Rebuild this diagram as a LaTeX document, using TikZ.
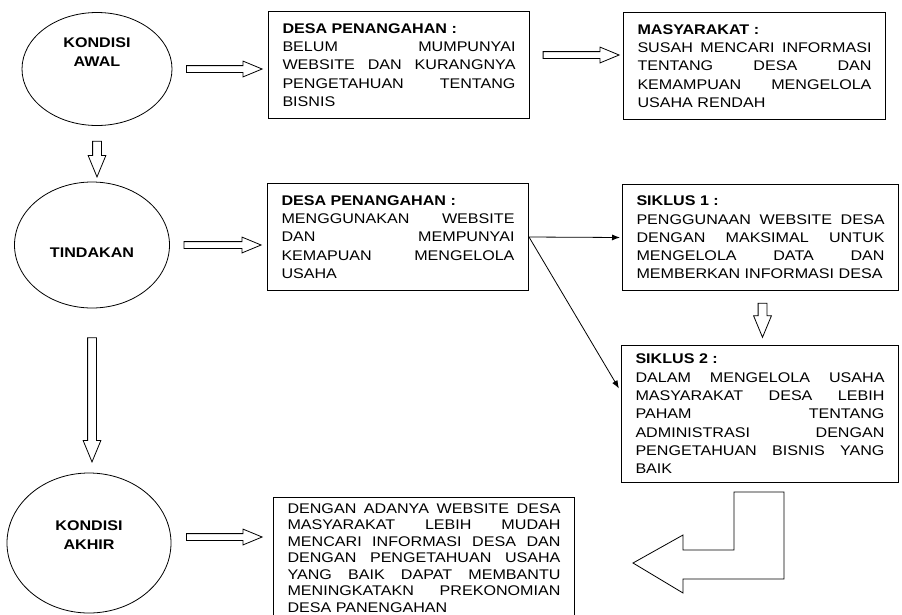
\documentclass[tikz,border=0pt]{standalone}
\usepackage{fontspec}
\setmainfont{Liberation Sans}[FakeStretch=1.15]
\usetikzlibrary{shapes.geometric, shapes.arrows, arrows.meta, calc}

\newcommand{\boxfont}{\fontsize{14}{18.3}\selectfont}
\newcommand{\lastfont}{\fontsize{14}{16.5}\selectfont}

\tikzset{
  phase/.style={ellipse, draw, line width=0.8pt},
  phasetext/.style={font=\boxfont\bfseries, align=center},
  infobox/.style={rectangle, draw, line width=1pt, text width=#1, align=justify,
    inner xsep=14pt, inner ysep=4pt, anchor=north west, font=\boxfont,
    execute at begin node=\setlength{\parindent}{0pt}},
  hollow/.style={to path={let \p1=($(\tikztotarget)-(\tikztostart)$), \n1={veclen(\x1,\y1)} in
    (\tikztostart) -- (\tikztotarget)
    node[midway, sloped, allow upside down, single arrow, draw, line width=0.8pt,
      inner sep=0pt, text height=#1, text depth=0pt, single arrow head extend=4.5pt,
      single arrow tip angle=45, minimum height=\n1] {}}},
  hollow/.default=6pt,
  link/.style={-{Latex[length=8pt, width=6pt]}, line width=0.8pt},
}

\begin{document}
\begin{tikzpicture}[x=1pt, y=-1pt]
\useasboundingbox (0,0) rectangle (902,614);

% phases
\node[phase, minimum width=150pt, minimum height=113pt,
  label={[phasetext, name=awaltext, yshift=17pt]center:KONDISI\\AWAL}] (awal) at (97,69) {};
\node[phase, minimum width=155pt, minimum height=126pt,
  label={[phasetext, name=tindtext, yshift=-8pt]center:TINDAKAN}] (tind) at (92,245) {};
\node[phase, minimum width=164pt, minimum height=140pt,
  label={[phasetext, name=akhirtext, yshift=8pt]center:KONDISI\\AKHIR}] (akhir) at (89,543) {};

% boxes
\node[infobox=233pt, minimum height=107pt] (desa1) at (268,11)
  {\textbf{DESA PENANGAHAN :}\newline
   BELUM MUMPUNYAI\linebreak WEBSITE DAN KURANGNYA\linebreak PENGETAHUAN TENTANG\linebreak BISNIS};
\node[infobox=234pt, minimum height=107pt] (masy) at (623,12)
  {\textbf{MASYARAKAT :}\newline
   SUSAH MENCARI INFORMASI\linebreak TENTANG DESA DAN\linebreak KEMAMPUAN MENGELOLA\linebreak USAHA RENDAH};
\node[infobox=233pt, minimum height=107pt] (desa2) at (267,183)
  {\textbf{DESA PENANGAHAN :}\newline
   MENGGUNAKAN WEBSITE\linebreak DAN MEMPUNYAI\linebreak KEMAPUAN MENGELOLA\linebreak USAHA};
\node[infobox=248pt, minimum height=106pt] (sik1) at (622,184)
  {\textbf{SIKLUS 1 :}\newline
   PENGGUNAAN WEBSITE DESA\linebreak DENGAN MAKSIMAL UNTUK\linebreak MENGELOLA DATA DAN\linebreak MEMBERKAN INFORMASI DESA};
\node[infobox=249pt, minimum height=137pt] (sik2) at (621,345)
  {\textbf{SIKLUS 2 :}\newline
   DALAM MENGELOLA USAHA\linebreak MASYARAKAT DESA LEBIH\linebreak PAHAM TENTANG\linebreak
   ADMINISTRASI DENGAN\linebreak PENGETAHUAN BISNIS YANG\linebreak BAIK};
\node[infobox=273pt, font=\lastfont, inner ysep=6pt] (final) at (273,497)
  {DENGAN ADANYA WEBSITE DESA\linebreak MASYARAKAT LEBIH MUDAH\linebreak MENCARI INFORMASI DESA DAN\linebreak
   DENGAN PENGETAHUAN USAHA\linebreak YANG BAIK DAPAT MEMBANTU\linebreak MENINGKATAKN PREKONOMIAN\linebreak
   DESA PANENGAHAN};

% hollow arrows
\path ($(awal.east)+(10,0)$) to[hollow] ($(desa1.west |- awal.east)+(-10,0)$);
\path ($(desa1.east)+(9,-10)$) to[hollow] ($(masy.west |- desa1.east)+(-8,-10)$);
\path ($(awal.south)+(0,10)$) to[hollow=8pt] ($(awal.south |- tind.north)+(0,-10)$);
\path ($(tind.east)+(10,0)$) to[hollow] ($(desa2.west |- tind.east)+(-10,0)$);
\path ($(tind.south)+(0,24)$) to[hollow=8pt] ($(tind.south |- akhir.north)+(0,-16)$);
\path ($(akhir.east)+(11,-6)$) to[hollow] ($(final.west |- akhir.east)+(-15,-6)$);
\path ($(sik1.south)+(2,7)$) to[hollow=8pt] ($(sik1.south |- sik2.north)+(2,-13)$);

% solid arrows
\draw[link, shorten >=2pt] (desa2.east) -- (sik1.west);
\draw[link, shorten >=4pt] (desa2.east) -- ($(sik2.north west)!0.34!(sik2.south west)$);

% bent arrow back
\draw[line width=0.8pt] (784,492) -- (734,492) -- (734,550) -- (683,550) -- (683,535)
  -- (633,563) -- (683,593) -- (683,579) -- (784,579) -- cycle;
\end{tikzpicture}
\end{document}
